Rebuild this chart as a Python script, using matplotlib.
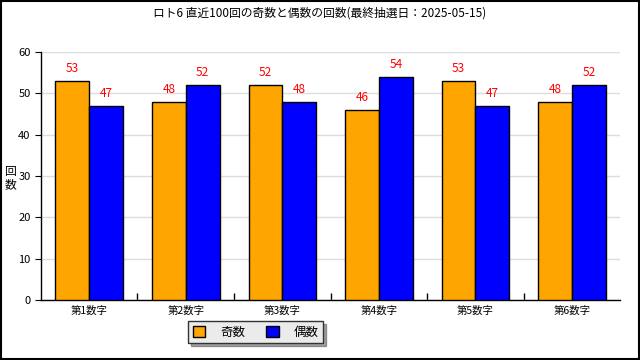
import numpy as np
import matplotlib.pyplot as plt
from matplotlib.patches import Rectangle

plt.rcParams['font.family'] = ['Noto Sans CJK JP', 'DejaVu Sans']

categories = ['第1数字', '第2数字', '第3数字', '第4数字', '第5数字', '第6数字']
odd_counts = [53, 48, 52, 46, 53, 48]
even_counts = [47, 52, 48, 54, 47, 52]
series_names = ['奇数', '偶数']
title = 'ロト6 直近100回の奇数と偶数の回数(最終抽選日：2025-05-15)'

fig = plt.figure(figsize=(6.4, 3.6), dpi=100)
ax = fig.add_axes([0.064, 0.1667, 0.905, 0.689])

x = np.arange(len(categories))
w = 0.35
b1 = ax.bar(x - w / 2, odd_counts, w, color='#ffa500', edgecolor='black', linewidth=1, label=series_names[0], zorder=3)
b2 = ax.bar(x + w / 2, even_counts, w, color='#0000ff', edgecolor='black', linewidth=1, label=series_names[1], zorder=3)

for bars in (b1, b2):
    for r in bars:
        ax.annotate(str(int(r.get_height())), (r.get_x() + r.get_width() / 2, r.get_height()),
                    xytext=(0, 4), textcoords='offset points', ha='center', va='bottom',
                    color='red', fontsize=8.5)

ax.set_xlim(-0.5, len(categories) - 0.5)
ax.set_ylim(0, 60)
ax.set_yticks(range(0, 61, 10))
ax.yaxis.grid(True, color='#dddddd', linewidth=1, zorder=0)
ax.set_xticks(x)
ax.set_xticklabels(categories, fontsize=7.5)
ax.set_xticks(np.arange(0.5, len(categories) - 0.5, 1), minor=True)
ax.tick_params(axis='x', which='major', length=0, pad=4)
ax.tick_params(axis='x', which='minor', direction='in', length=5, width=1)
ax.tick_params(axis='y', direction='out', length=4, labelsize=8)
for s in ('top', 'right'):
    ax.spines[s].set_visible(False)
ax.spines['left'].set_linewidth(1)
ax.spines['bottom'].set_linewidth(1)

fig.text(0.5, 0.965, title, ha='center', va='center', fontsize=8.5)
fig.text(0.016, 0.505, '回\n数', ha='center', va='center', fontsize=8.5, linespacing=1.0)

fig.legend(loc='upper left', bbox_to_anchor=(0.294, 0.108), borderaxespad=0, ncol=2, fontsize=9,
           frameon=True, fancybox=False, shadow=True, facecolor='#ebebeb', edgecolor='#333333',
           framealpha=1, handlelength=1.0, handleheight=1.0, handletextpad=1.2,
           columnspacing=1.7, borderpad=0.35)

fig.patches.append(Rectangle((0.001, 0.002), 0.997, 0.996, transform=fig.transFigure,
                             fill=False, edgecolor='black', linewidth=1.5))

fig.savefig('out.png', dpi=100)
